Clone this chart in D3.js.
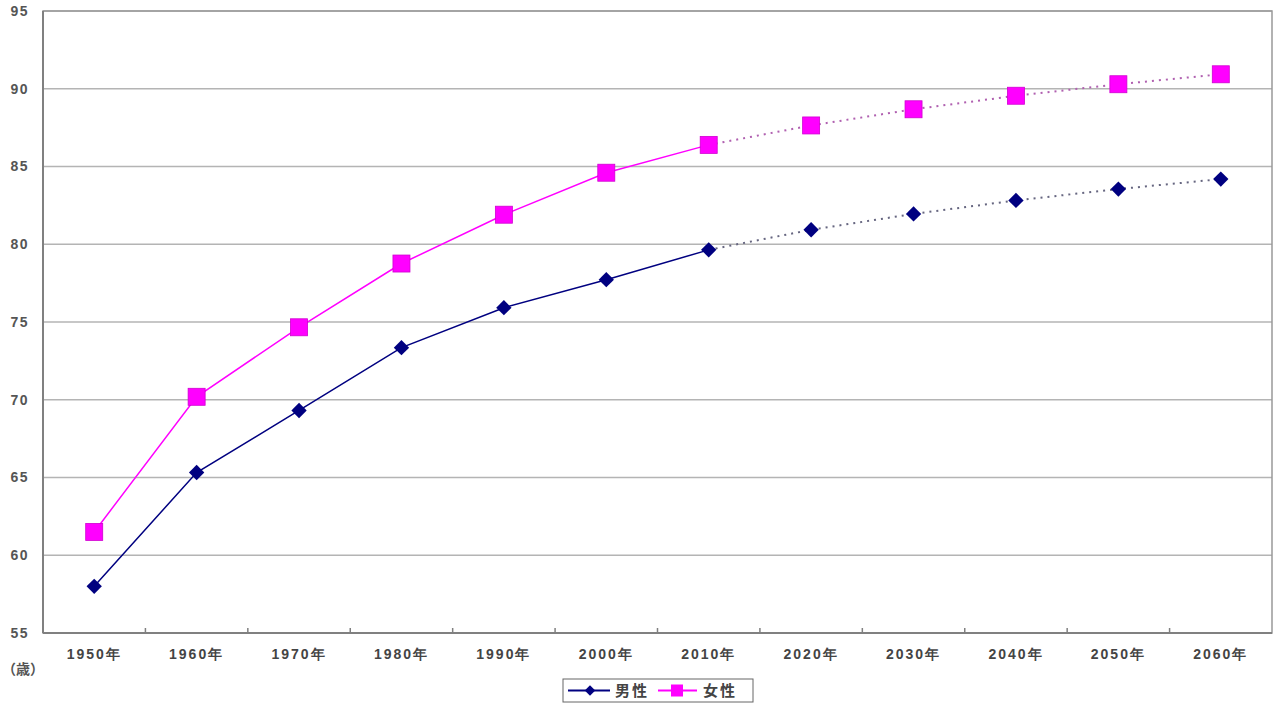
<!DOCTYPE html>
<html><head><meta charset="utf-8">
<script src="https://cdn.jsdelivr.net/npm/d3@7"></script>
<style>body{margin:0;background:#fff}svg{display:block;font-family:"Noto Sans CJK JP","Noto Sans",sans-serif}</style>
</head><body><svg id="c" width="1278" height="705"></svg>
<script>
const categories = ["1950年","1960年","1970年","1980年","1990年","2000年","2010年","2020年","2030年","2040年","2050年","2060年"];
const male = [58.0,65.32,69.31,73.35,75.92,77.72,79.64,80.93,81.95,82.82,83.55,84.19];
const female = [61.5,70.19,74.66,78.76,81.90,84.60,86.39,87.64,88.68,89.55,90.29,90.93];
const yTicks = [55,60,65,70,75,80,85,90,95];
const actualCount = 7; // 1950-2010 actual, rest projected

const svg = d3.select("#c");
const L=43,R=1272,T=11,B=633;
const x = d3.scaleBand().domain(categories).range([L,R]);
const y = d3.scaleLinear().domain([55,95]).range([B,T]);

// grid
svg.append("g").selectAll("line").data(yTicks.filter(v=>v>55)).join("line")
  .attr("x1",L).attr("x2",R).attr("y1",d=>y(d)).attr("y2",d=>y(d))
  .attr("stroke","#b4b4b4").attr("stroke-width",1.5);
// frame
svg.append("rect").attr("x",L).attr("y",T).attr("width",R-L).attr("height",B-T)
  .attr("fill","none").attr("stroke","#999").attr("stroke-width",1.5);
svg.append("line").attr("x1",L).attr("x2",L).attr("y1",T).attr("y2",B).attr("stroke","#808080").attr("stroke-width",2);
svg.append("line").attr("x1",L).attr("x2",R).attr("y1",B).attr("y2",B).attr("stroke","#808080").attr("stroke-width",2);

// y axis labels
const yAx = d3.axisLeft(y).tickValues(yTicks).tickSize(0).tickPadding(14);
const gy = svg.append("g").attr("transform",`translate(${L},0)`).call(yAx);
gy.select(".domain").remove();
gy.selectAll("text").attr("font-size",14).attr("font-weight","bold").attr("fill","#555").attr("letter-spacing","1.5px");

// x axis
const xAx = d3.axisBottom(x).tickSize(0).tickPadding(16);
const gx = svg.append("g").attr("transform",`translate(0,${B})`).call(xAx);
gx.select(".domain").remove();
gx.selectAll("text").attr("font-size",14).attr("font-weight","bold").attr("fill","#444").attr("letter-spacing","2px");
// inward category ticks
svg.append("g").selectAll("line").data(categories.slice(1)).join("line")
  .attr("x1",d=>x(d)).attr("x2",d=>x(d)).attr("y1",B).attr("y2",B-5)
  .attr("stroke","#808080").attr("stroke-width",1.5);

svg.append("text").attr("x",2).attr("y",674).attr("font-size",14).attr("font-weight","bold").attr("fill","#555").text("（歳）");

const cx = d => x(d)+x.bandwidth()/2;
const line = d3.line().x(d=>cx(d.c)).y(d=>y(d.v));
function series(vals,color,dashColor){
  const pts = vals.map((v,i)=>({c:categories[i],v}));
  svg.append("path").attr("d",line(pts.slice(0,actualCount))).attr("fill","none").attr("stroke",color).attr("stroke-width",1.5);
  svg.append("path").attr("d",line(pts.slice(actualCount-1))).attr("fill","none").attr("stroke",dashColor).attr("stroke-width",2).attr("stroke-dasharray","2,5");
  return pts;
}
const mp = series(male,"#000080","#666680");
const fp = series(female,"#ff00ff","#b060b0");
svg.append("g").selectAll("rect").data(fp).join("rect")
  .attr("x",d=>cx(d.c)-8.5).attr("y",d=>y(d.v)-8.5).attr("width",17).attr("height",17)
  .attr("fill","#ff00ff").attr("stroke","#d000d0").attr("stroke-width",0.8);
const dia = d3.symbol().type(d3.symbolDiamond2).size(150);
svg.append("g").selectAll("path").data(mp).join("path")
  .attr("transform",d=>`translate(${cx(d.c)},${y(d.v)})`).attr("d",dia).attr("fill","#000080");

// legend
const lg = svg.append("g").attr("transform","translate(563,679)");
lg.append("rect").attr("width",190).attr("height",23).attr("fill","#fff").attr("stroke","#666").attr("stroke-width",1);
lg.append("line").attr("x1",5).attr("x2",47).attr("y1",11.5).attr("y2",11.5).attr("stroke","#000080").attr("stroke-width",2);
lg.append("path").attr("transform","translate(27,11.5)").attr("d",d3.symbol().type(d3.symbolDiamond2).size(70)).attr("fill","#000080");
lg.append("text").attr("x",52).attr("y",17).attr("font-size",15).attr("font-weight","bold").attr("fill","#444").attr("letter-spacing","2px").text("男性");
lg.append("line").attr("x1",95).attr("x2",134).attr("y1",11.5).attr("y2",11.5).attr("stroke","#ff00ff").attr("stroke-width",2);
lg.append("rect").attr("x",108).attr("y",5.5).attr("width",12).attr("height",12).attr("fill","#ff00ff");
lg.append("text").attr("x",140).attr("y",17).attr("font-size",15).attr("font-weight","bold").attr("fill","#444").attr("letter-spacing","2px").text("女性");
</script></body></html>
